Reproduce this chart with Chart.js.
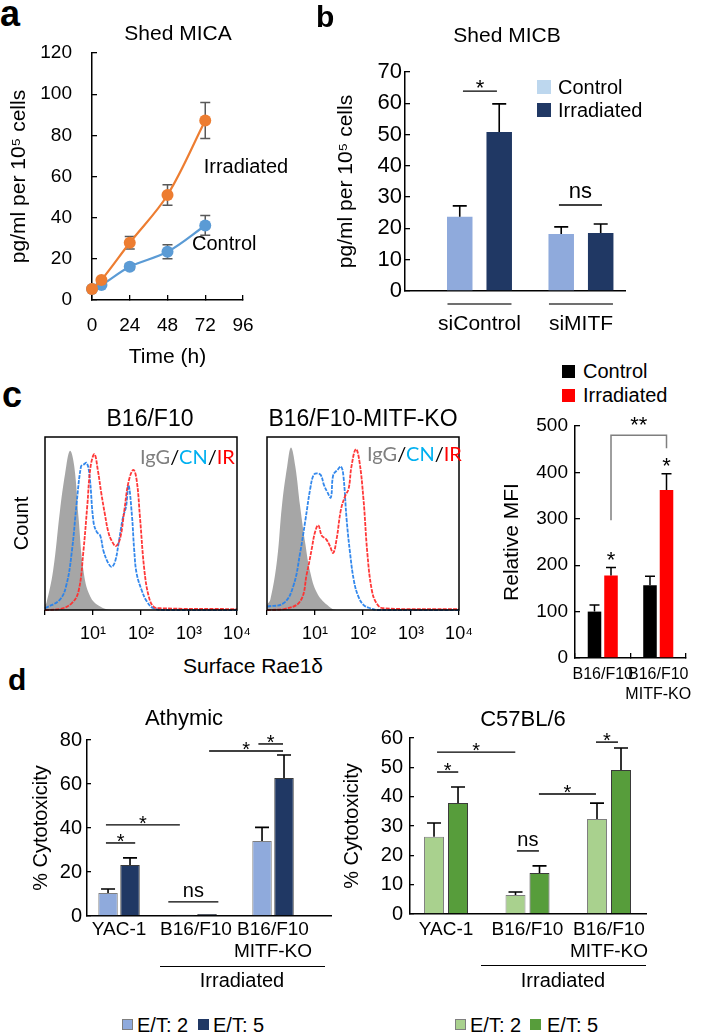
<!DOCTYPE html>
<html>
<head>
<meta charset="utf-8">
<script src="https://cdn.jsdelivr.net/npm/chart.js@4.4.1/dist/chart.umd.min.js"></script>
<style>
  body { margin: 0; background: #fff; }
  #fig { position: relative; width: 709px; height: 1033px; overflow: hidden; font-family: "Liberation Sans", Arial, sans-serif; color: #000; }
  #fig canvas { position: absolute; }
  .t { position: absolute; white-space: nowrap; line-height: 1; }
  .c { transform: translateX(-50%); }
  .b { font-weight: bold; }
  .sq { position: absolute; box-sizing: border-box; }
  .gl { position: absolute; height: 0; border-top: 1.5px solid #000; }
  .lato { font-family: Lato, "Liberation Sans", sans-serif; }
</style>
</head>
<body>
<div id="fig">
  <canvas id="chA" style="left:0;top:40px" width="300" height="330"></canvas>
  <canvas id="chB" style="left:330px;top:60px" width="300" height="290"></canvas>
  <canvas id="chH1" style="left:0;top:425px" width="260" height="225"></canvas>
  <canvas id="chH2" style="left:262px;top:425px" width="220" height="225"></canvas>
  <canvas id="chMFI" style="left:495px;top:410px" width="200" height="300"></canvas>
  <canvas id="chD1" style="left:0;top:725px" width="340" height="285"></canvas>
  <canvas id="chD2" style="left:340px;top:725px" width="315" height="285"></canvas>

  <!-- panel a / b -->
  <div class="t b" style="left:0;top:-4px;font-size:36px">a</div>
  <div class="t c" style="left:178px;top:22px;font-size:21px">Shed MICA</div>
  <div class="t b" style="left:316px;top:2px;font-size:30px">b</div>
  <div class="t c" style="left:507px;top:24px;font-size:21px">Shed MICB</div>
  <div class="sq" style="left:537px;top:80px;width:14px;height:14px;background:#BDD7EE"></div>
  <div class="t" style="left:558px;top:77px;font-size:20px">Control</div>
  <div class="sq" style="left:537px;top:103px;width:14px;height:14px;background:#203864"></div>
  <div class="t" style="left:558px;top:100px;font-size:20px">Irradiated</div>

  <!-- panel c -->
  <div class="t b" style="left:2px;top:377px;font-size:36px">c</div>
  <div class="t c" style="left:150px;top:407px;font-size:23px">B16/F10</div>
  <div class="t c" style="left:363px;top:407px;font-size:23px">B16/F10-MITF-KO</div>
  <div class="t lato" style="left:140px;top:446px;font-size:20px"><span style="color:#7F7F7F">IgG</span>/<span style="color:#00B0F0">CN</span>/<span style="color:#FF0000">IR</span></div>
  <div class="t lato" style="left:367px;top:443px;font-size:20px"><span style="color:#7F7F7F">IgG</span>/<span style="color:#00B0F0">CN</span>/<span style="color:#FF0000">IR</span></div>
  <div class="t c" style="left:253px;top:655px;font-size:21px">Surface Rae1δ</div>
  <div class="sq" style="left:562px;top:365px;width:13px;height:13px;background:#000"></div>
  <div class="t" style="left:583px;top:361px;font-size:20px">Control</div>
  <div class="sq" style="left:562px;top:389px;width:13px;height:13px;background:#FF0000"></div>
  <div class="t" style="left:583px;top:385px;font-size:20px">Irradiated</div>

  <!-- panel d -->
  <div class="t b" style="left:8px;top:665px;font-size:30px">d</div>
  <div class="t c" style="left:184px;top:707px;font-size:22px">Athymic</div>
  <div class="t c" style="left:523px;top:708px;font-size:22px">C57BL/6</div>
  <div class="gl" style="left:160px;top:966px;width:165px"></div>
  <div class="t c" style="left:242px;top:970px;font-size:20px">Irradiated</div>
  <div class="gl" style="left:481px;top:965px;width:165px"></div>
  <div class="t c" style="left:563px;top:970px;font-size:20px">Irradiated</div>
  <div class="sq" style="left:122px;top:1019px;width:11px;height:11px;background:#8FAADC;border:1px solid #7F7F7F"></div>
  <div class="t" style="left:137px;top:1015px;font-size:20px">E/T: 2</div>
  <div class="sq" style="left:198px;top:1019px;width:11px;height:11px;background:#203864"></div>
  <div class="t" style="left:213px;top:1015px;font-size:20px">E/T: 5</div>
  <div class="sq" style="left:455px;top:1019px;width:11px;height:11px;background:#A9D18E;border:1px solid #7F7F7F"></div>
  <div class="t" style="left:470px;top:1015px;font-size:20px">E/T: 2</div>
  <div class="sq" style="left:530px;top:1019px;width:11px;height:11px;background:#579D3B"></div>
  <div class="t" style="left:547px;top:1015px;font-size:20px">E/T: 5</div>
</div>

<script>
// ---- a: shed MICA (pg/ml per 10^5 cells) ----
const hoursA = [0, 6, 24, 48, 72];
const micaControl = [5.3, 7.3, 16.2, 23.4, 36.2];
const micaControlErr = [0, 0, 1.4, 3.4, 4.8];
const micaIrradiated = [5.3, 9.7, 27.8, 51, 87.2];
const micaIrradiatedErr = [0, 0, 3, 5, 8.7];

// ---- b: shed MICB ----
const groupsB = ['siControl', 'siMITF'];
const micbControl = [23.7, 18.2];
const micbControlErr = [3.5, 2.3];
const micbIrradiated = [50.8, 18.5];
const micbIrradiatedErr = [9, 2.9];

// ---- c: Rae1d histograms (log10 intensity, % of max count) ----
const wtIggX = [0, 0.03, 0.17, 0.31, 0.42, 0.52, 0.61, 0.70, 0.80, 0.94, 1.15, 1.43, 4];
const wtIggY = [3, 4, 23, 57, 79, 92, 83, 53, 23, 8, 2, 0, 0];
const wtCnX = [0, 0.31, 0.45, 0.56, 0.66, 0.75, 0.80, 0.87, 0.93, 1.01, 1.08, 1.15, 1.22, 1.32, 1.39, 1.46, 1.53, 1.62, 1.69, 1.74, 1.81, 1.86, 1.91, 2.02, 2.12, 2.26, 2.5, 4];
const wtCnY = [1, 6, 15, 34, 62, 83, 84, 85, 77, 51, 45, 43, 34, 27, 25, 28, 38, 53, 60, 72, 55, 34, 21, 11, 5, 1, 0, 0];
const wtIrX = [0, 0.31, 0.56, 0.70, 0.80, 0.88, 0.95, 1.03, 1.10, 1.17, 1.25, 1.32, 1.39, 1.48, 1.57, 1.65, 1.74, 1.84, 1.91, 1.98, 2.07, 2.16, 2.26, 2.4, 4];
const wtIrY = [0, 0.5, 4, 11, 34, 60, 83, 90, 81, 68, 55, 45, 40, 37, 42, 57, 74, 81, 75, 53, 23, 8, 2, 1, 0.5];

const koIggX = [0, 0.07, 0.21, 0.31, 0.42, 0.50, 0.59, 0.69, 0.80, 0.90, 1.04, 1.25, 1.45, 4];
const koIggY = [3, 6, 29, 60, 83, 94, 83, 60, 38, 22, 10, 3, 0, 0];
const koCnX = [0, 0.35, 0.55, 0.69, 0.80, 0.90, 0.97, 1.04, 1.12, 1.19, 1.26, 1.33, 1.38, 1.47, 1.54, 1.59, 1.66, 1.73, 1.81, 1.90, 2.01, 2.15, 2.3, 4];
const koCnY = [2, 4, 14, 33, 52, 70, 78, 79, 78, 72, 68, 65, 78, 81, 83, 78, 52, 33, 17, 8, 3, 1, 0, 0];
const koIrX = [0, 0.35, 0.69, 0.83, 0.93, 1.00, 1.07, 1.14, 1.23, 1.31, 1.38, 1.45, 1.54, 1.63, 1.70, 1.76, 1.85, 1.92, 2.01, 2.09, 2.18, 2.28, 2.42, 4];
const koIrY = [0, 0.5, 5, 21, 35, 45, 49, 43, 41, 37, 33, 41, 58, 66, 70, 83, 93, 87, 64, 33, 12, 4, 1, 0.5];

// ---- c: relative MFI ----
const groupsMFI = ['B16/F10', ['B16/F10', 'MITF-KO']];
const mfiControl = [100, 157];
const mfiControlErr = [14, 19];
const mfiIrradiated = [178, 362];
const mfiIrradiatedErr = [17, 35];

// ---- d: % cytotoxicity ----
const groupsD = ['YAC-1', 'B16/F10', ['B16/F10', 'MITF-KO']];
const athymicET2 = [10.5, 0.6, 34.1];
const athymicET2Err = [1.8, 0, 6.2];
const athymicET5 = [23.2, 0.9, 62.7];
const athymicET5Err = [3.2, 0, 10.5];
const c57ET2 = [26.3, 6.5, 32.4];
const c57ET2Err = [4.7, 1, 5.4];
const c57ET5 = [37.8, 14, 49.1];
const c57ET5Err = [5.5, 2.4, 7.5];

const SANS = '"Liberation Sans", Arial, sans-serif';
Chart.defaults.font.family = SANS;
Chart.defaults.color = '#000';
Chart.defaults.animation = false;
Chart.defaults.plugins.legend.display = false;
Chart.defaults.plugins.tooltip.enabled = false;

// axis boxes get fixed sizes so the plot areas land where the figure has them
const fixY = (w) => (s) => { s.width = w; s.paddingTop = 0; s.paddingBottom = 0; };
const fixX = (h) => (s) => { s.height = h; s.paddingLeft = 0; s.paddingRight = 0; };
const inward = (len) => ({ drawOnChartArea: false, tickLength: -len, color: '#000', lineWidth: 1.3 });
const noGrid = { display: false, drawTicks: false };
const axisLine = { display: true, color: '#000', width: 1.5 };
const xy = (xs, ys) => xs.map((x, i) => ({ x, y: ys[i] }));
const sup = ['⁰', '¹', '²', '³', '⁴'];

function drawErrors(chart, opts) {
  const { ctx } = chart;
  const yScale = chart.scales.y;
  ctx.save();
  ctx.strokeStyle = opts.color || '#000';
  ctx.lineWidth = opts.width || 1.5;
  chart.data.datasets.forEach((ds, i) => {
    if (!ds.errors) return;
    chart.getDatasetMeta(i).data.forEach((el, j) => {
      const err = ds.errors[j];
      if (!err) return;
      const raw = ds.data[j];
      const v = typeof raw === 'object' ? raw.y : raw;
      const top = yScale.getPixelForValue(v + err);
      const bottom = opts.both ? yScale.getPixelForValue(v - err) : el.y;
      const c = opts.cap || 6;
      ctx.beginPath();
      ctx.moveTo(el.x, bottom);
      ctx.lineTo(el.x, top);
      ctx.moveTo(el.x - c, top);
      ctx.lineTo(el.x + c, top);
      if (opts.both) {
        ctx.moveTo(el.x - c, bottom);
        ctx.lineTo(el.x + c, bottom);
      }
      ctx.stroke();
    });
  });
  ctx.restore();
}

const errorBars = {
  id: 'errorBars',
  beforeDatasetsDraw(chart, args, opts) { if (opts.behind) drawErrors(chart, opts); },
  afterDatasetsDraw(chart, args, opts) { if (!opts.behind) drawErrors(chart, opts); }
};

// significance lines with * / ns
const sigMarks = {
  id: 'sigMarks',
  afterDraw(chart, args, opts) {
    if (!opts.marks) return;
    const { ctx, scales: { x, y } } = chart;
    ctx.save();
    ctx.strokeStyle = '#000';
    ctx.fillStyle = '#000';
    ctx.lineWidth = 1.4;
    ctx.font = opts.size + 'px ' + SANS;
    ctx.textAlign = 'center';
    ctx.textBaseline = 'alphabetic';
    opts.marks.forEach((m) => {
      const x1 = x.getPixelForValue(m.from);
      const x2 = x.getPixelForValue(m.to);
      const py = y.getPixelForValue(m.y);
      ctx.beginPath();
      ctx.moveTo(x1, py);
      ctx.lineTo(x2, py);
      ctx.stroke();
      ctx.fillText(m.text, (x1 + x2) / 2, m.text === 'ns' ? py - opts.nsRise : py + opts.starDrop);
    });
    ctx.restore();
  }
};

const groupLines = {
  id: 'groupLines',
  afterDraw(chart, args, opts) {
    const { ctx, scales: { x } } = chart;
    const yy = chart.chartArea.bottom + opts.gap;
    ctx.save();
    ctx.strokeStyle = opts.color;
    ctx.lineWidth = 1.5;
    x.ticks.forEach((t) => {
      const px = x.getPixelForValue(t.value);
      ctx.beginPath();
      ctx.moveTo(px - opts.half, yy);
      ctx.lineTo(px + opts.half, yy);
      ctx.stroke();
    });
    ctx.restore();
  }
};

const frame = {
  id: 'frame',
  afterDraw(chart) {
    const { ctx, chartArea: a } = chart;
    ctx.save();
    ctx.strokeStyle = '#000';
    ctx.lineWidth = 1.5;
    ctx.strokeRect(a.left, a.top, a.width, a.height);
    ctx.restore();
  }
};

const curveLabels = {
  id: 'curveLabels',
  afterDraw(chart, args, opts) {
    const { ctx, scales: { x, y } } = chart;
    ctx.save();
    ctx.font = '20px ' + SANS;
    ctx.fillStyle = '#000';
    ctx.textAlign = 'left';
    ctx.textBaseline = 'middle';
    opts.items.forEach((it) => ctx.fillText(it.text, x.getPixelForValue(it.x), y.getPixelForValue(it.y)));
    ctx.restore();
  }
};

// bracket + stars over the irradiated MFI bars
const mfiBracket = { top: 480, leftEnd: 297, rightEnd: 452 };
const mfiMarks = {
  id: 'mfiMarks',
  afterDatasetsDraw(chart) {
    const { ctx, scales: { y } } = chart;
    const bars = chart.getDatasetMeta(1).data;
    const xl = bars[0].x, xr = bars[1].x;
    const top = y.getPixelForValue(mfiBracket.top);
    ctx.save();
    ctx.strokeStyle = '#7F7F7F';
    ctx.lineWidth = 1.5;
    ctx.beginPath();
    ctx.moveTo(xl, y.getPixelForValue(mfiBracket.leftEnd));
    ctx.lineTo(xl, top);
    ctx.lineTo(xr, top);
    ctx.lineTo(xr, y.getPixelForValue(mfiBracket.rightEnd));
    ctx.stroke();
    ctx.fillStyle = '#000';
    ctx.font = '22px ' + SANS;
    ctx.textAlign = 'center';
    ctx.textBaseline = 'alphabetic';
    ctx.fillText('**', (xl + xr) / 2, top - 3);
    bars.forEach((b, j) => {
      const errTop = y.getPixelForValue(mfiIrradiated[j] + mfiIrradiatedErr[j]);
      ctx.fillText('*', b.x, errTop - 1);
    });
    ctx.restore();
  }
};

// ---------- a ----------
new Chart(document.getElementById('chA'), {
  type: 'line',
  data: {
    datasets: [
      {
        label: 'Irradiated',
        data: xy(hoursA, micaIrradiated),
        errors: micaIrradiatedErr,
        borderColor: '#ED7D31',
        backgroundColor: '#ED7D31',
        borderWidth: 2.2,
        pointRadius: 6,
        pointBorderWidth: 0,
        tension: 0.35,
        clip: false
      },
      {
        label: 'Control',
        data: xy(hoursA, micaControl),
        errors: micaControlErr,
        borderColor: '#5B9BD5',
        backgroundColor: '#5B9BD5',
        borderWidth: 2.2,
        pointRadius: 6,
        pointBorderWidth: 0,
        tension: 0.35,
        clip: false
      }
    ]
  },
  options: {
    responsive: false,
    layout: { padding: { top: 13, right: 57, left: 0, bottom: 0 } },
    scales: {
      x: {
        type: 'linear', min: 0, max: 96,
        ticks: { stepSize: 24, padding: 19, font: { size: 19 }, maxRotation: 0 },
        grid: inward(5), border: axisLine,
        title: { display: true, text: 'Time (h)', font: { size: 21 }, padding: { top: 0, bottom: 0 } },
        afterFit: fixX(70)
      },
      y: {
        min: 0, max: 120,
        ticks: { stepSize: 20, padding: 25, font: { size: 19 } },
        grid: inward(5), border: axisLine,
        title: { display: true, text: 'pg/ml per 10⁵ cells', font: { size: 21 }, padding: { top: 7, bottom: 0 } },
        afterFit: fixY(92)
      }
    },
    plugins: {
      errorBars: { behind: true, both: true, color: '#595959', width: 1.5, cap: 5 },
      curveLabels: { items: [{ text: 'Irradiated', x: 71, y: 64.6 }, { text: 'Control', x: 63.6, y: 27.2 }] }
    }
  },
  plugins: [errorBars, curveLabels]
});

// ---------- b ----------
new Chart(document.getElementById('chB'), {
  type: 'bar',
  data: {
    datasets: [
      { label: 'Control', data: xy([1, 2], micbControl), errors: micbControlErr, backgroundColor: '#8FAADC', categoryPercentage: 0.778, barPercentage: 0.646 },
      { label: 'Irradiated', data: xy([1, 2], micbIrradiated), errors: micbIrradiatedErr, backgroundColor: '#203864', categoryPercentage: 0.778, barPercentage: 0.646 }
    ]
  },
  options: {
    responsive: false,
    layout: { padding: { top: 12, right: 5, left: 0, bottom: 0 } },
    scales: {
      x: {
        type: 'linear', min: 0.266, max: 2.434, offset: false,
        afterBuildTicks: (s) => { s.ticks = groupsB.map((g, i) => ({ value: i + 1 })); },
        ticks: { callback: (v, i) => groupsB[i], padding: 21, font: { size: 21 }, autoSkip: false, maxRotation: 0 },
        grid: noGrid, border: axisLine,
        afterFit: fixX(59)
      },
      y: {
        min: 0, max: 70,
        ticks: { stepSize: 10, padding: 8, font: { size: 22 } },
        grid: inward(5), border: axisLine,
        title: { display: true, text: 'pg/ml per 10⁵ cells', font: { size: 21 }, padding: { top: 4, bottom: 0 } },
        afterFit: fixY(75)
      }
    },
    plugins: {
      errorBars: { width: 1.6, cap: 7 },
      sigMarks: { size: 22, starDrop: 4, nsRise: 7, marks: [
        { from: 0.837, to: 1.172, y: 63.9, text: '*' },
        { from: 1.783, to: 2.207, y: 27.5, text: 'ns' }
      ] },
      groupLines: { gap: 13, half: 32, color: '#404040' }
    }
  },
  plugins: [errorBars, sigMarks, groupLines]
});

// ---------- c: histograms ----------
function histChart(id, igg, cn, ir, yWidth, withTitle) {
  return new Chart(document.getElementById(id), {
    type: 'line',
    data: {
      datasets: [
        { data: ir, borderColor: 'rgba(255,45,45,0.95)', borderWidth: 1.8, borderDash: [4, 1.2], pointRadius: 0, fill: false, tension: 0.4, clip: false },
        { data: cn, borderColor: 'rgba(40,130,235,0.95)', borderWidth: 1.8, borderDash: [4, 1.2], pointRadius: 0, fill: false, tension: 0.4, clip: false },
        { data: igg, borderWidth: 0, backgroundColor: '#A6A6A6', pointRadius: 0, fill: 'origin', tension: 0.4 }
      ]
    },
    options: {
      responsive: false,
      layout: { padding: { top: 12, right: 23, left: 0, bottom: 0 } },
      scales: {
        x: {
          type: 'linear', min: 0, max: 4,
          ticks: { stepSize: 1, padding: 8, font: { size: 18 }, maxRotation: 0, callback: (v) => (v === 0 ? '' : '10' + sup[v]) },
          grid: { drawOnChartArea: false, tickLength: 5, color: '#000', lineWidth: 1.3 },
          border: { display: false },
          afterFit: fixX(40)
        },
        y: {
          min: 0, max: 100,
          ticks: { display: false },
          grid: noGrid,
          border: { display: false },
          title: { display: withTitle, text: 'Count', font: { size: 20 }, padding: { top: 10, bottom: 0 } },
          afterFit: fixY(yWidth)
        }
      }
    },
    plugins: [frame]
  });
}
histChart('chH1', xy(wtIggX, wtIggY), xy(wtCnX, wtCnY), xy(wtIrX, wtIrY), 45, true);
histChart('chH2', xy(koIggX, koIggY), xy(koCnX, koCnY), xy(koIrX, koIrY), 5, false);

// ---------- c: relative MFI ----------
new Chart(document.getElementById('chMFI'), {
  type: 'bar',
  data: {
    labels: groupsMFI,
    datasets: [
      { label: 'Control', data: mfiControl, errors: mfiControlErr, backgroundColor: '#000000', categoryPercentage: 0.595, barPercentage: 0.82 },
      { label: 'Irradiated', data: mfiIrradiated, errors: mfiIrradiatedErr, backgroundColor: '#FF0000', categoryPercentage: 0.595, barPercentage: 0.82 }
    ]
  },
  options: {
    responsive: false,
    layout: { padding: { top: 16, right: 9, left: 0, bottom: 0 } },
    scales: {
      x: {
        ticks: { padding: 12, font: { size: 16, lineHeight: 1.25 }, autoSkip: false, maxRotation: 0 },
        grid: { offset: true, drawOnChartArea: false, tickLength: -5, color: '#000', lineWidth: 1.3 },
        border: axisLine,
        afterFit: fixX(52)
      },
      y: {
        min: 0, max: 500,
        ticks: { stepSize: 100, padding: 12, font: { size: 19 } },
        grid: inward(5), border: axisLine,
        title: { display: true, text: 'Relative MFI', font: { size: 21 }, padding: { top: 5, bottom: 0 } },
        afterFit: fixY(80)
      }
    },
    plugins: { errorBars: { width: 1.5, cap: 5 } }
  },
  plugins: [errorBars, mfiMarks]
});

// ---------- d ----------
function cytoChart(id, opt) {
  return new Chart(document.getElementById(id), {
    type: 'bar',
    data: {
      datasets: [
        { label: 'E/T: 2', data: xy([1, 2, 3], opt.et2), errors: opt.et2Err, backgroundColor: opt.light, borderColor: '#7F7F7F', borderWidth: 1, categoryPercentage: opt.cat, barPercentage: opt.bar },
        { label: 'E/T: 5', data: xy([1, 2, 3], opt.et5), errors: opt.et5Err, backgroundColor: opt.dark, borderColor: '#3A3A3A', borderWidth: 1, categoryPercentage: opt.cat, barPercentage: opt.bar }
      ]
    },
    options: {
      responsive: false,
      layout: { padding: { top: opt.top, right: 9, left: 0, bottom: 0 } },
      scales: {
        x: {
          type: 'linear', min: opt.min, max: opt.max, offset: false,
          afterBuildTicks: (s) => { s.ticks = groupsD.map((g, i) => ({ value: i + 1 })); },
          ticks: { callback: (v, i) => groupsD[i], padding: opt.labelPad, font: { size: 19, lineHeight: 1.15 }, autoSkip: false, maxRotation: 0 },
          grid: noGrid, border: axisLine,
          afterFit: fixX(opt.xh)
        },
        y: {
          min: 0, max: opt.ymax,
          ticks: { stepSize: opt.step, padding: opt.tickPad, font: { size: 20 } },
          grid: inward(4), border: axisLine,
          title: { display: true, text: '% Cytotoxicity', font: { size: 20 }, padding: { top: opt.titlePad, bottom: 0 } },
          afterFit: fixY(opt.yw)
        }
      },
      plugins: {
        errorBars: { width: 1.6, cap: 7 },
        sigMarks: { size: 20, starDrop: 5, nsRise: 5, marks: opt.marks }
      }
    },
    plugins: [errorBars, sigMarks]
  });
}

cytoChart('chD1', {
  et2: athymicET2, et2Err: athymicET2Err, et5: athymicET5, et5Err: athymicET5Err,
  light: '#8FAADC', dark: '#203864', cat: 0.571, bar: 0.886,
  min: 0.584, max: 3.753, ymax: 80, step: 20,
  top: 15, xh: 94, yw: 87, tickPad: 9, titlePad: 29, labelPad: 3,
  marks: [
    { from: 0.83, to: 1.21, y: 33.2, text: '*' },
    { from: 0.83, to: 1.79, y: 41.4, text: '*' },
    { from: 1.64, to: 2.29, y: 6.4, text: 'ns' },
    { from: 2.17, to: 3.13, y: 75, text: '*' },
    { from: 2.81, to: 3.13, y: 78.2, text: '*' }
  ]
});

cytoChart('chD2', {
  et2: c57ET2, et2Err: c57ET2Err, et5: c57ET5, et5Err: c57ET5Err,
  light: '#A9D18E', dark: '#579D3B', cat: 0.589, bar: 0.833,
  min: 0.558, max: 3.454, ymax: 60, step: 10,
  top: 13, xh: 96, yw: 70, tickPad: 11, titlePad: 0, labelPad: 5,
  marks: [
    { from: 0.89, to: 1.15, y: 48.4, text: '*' },
    { from: 0.89, to: 1.85, y: 55.2, text: '*' },
    { from: 1.87, to: 2.14, y: 21.5, text: 'ns' },
    { from: 2.14, to: 2.84, y: 40.9, text: '*' },
    { from: 2.84, to: 3.11, y: 58.6, text: '*' }
  ]
});
</script>
</body>
</html>
